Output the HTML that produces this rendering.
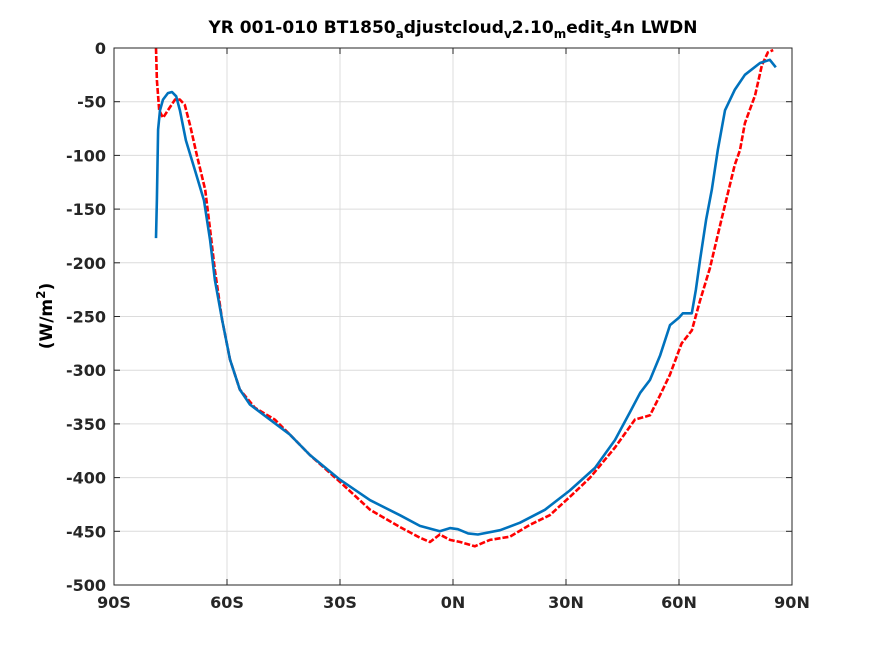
<!DOCTYPE html>
<html><head><meta charset="utf-8"><style>
body{margin:0;background:#fff;}
svg{display:block;font-family:"DejaVu Sans","Liberation Sans",sans-serif;}
</style></head><body>
<svg id="chart" width="875" height="656" viewBox="0 0 875 656">
<rect width="875" height="656" fill="#fff"/>
<text x="453" y="33" text-anchor="middle" font-size="17" font-weight="bold" fill="#000">YR 001-010 BT1850<tspan font-size="12" dy="5">a</tspan><tspan dy="-5">djustcloud</tspan><tspan font-size="12" dy="5">v</tspan><tspan dy="-5">2.10</tspan><tspan font-size="12" dy="5">m</tspan><tspan dy="-5">edit</tspan><tspan font-size="12" dy="5">s</tspan><tspan dy="-5">4n LWDN</tspan></text>
<g id="grid"></g><g id="series"></g><g id="axes"></g>
<text transform="translate(52,316) rotate(-90)" text-anchor="middle" font-size="17" font-weight="bold">(W/m<tspan font-size="12" dy="-7">2</tspan><tspan dy="7">)</tspan></text>
</svg>
<script>
const xTicks=[-90,-60,-30,0,30,60,90];
const xTickLabels=["90S","60S","30S","0N","30N","60N","90N"];
const yTicks=[0,-50,-100,-150,-200,-250,-300,-350,-400,-450,-500];
const blueLat=[-78.85,-78.6,-78.3,-77.8,-77,-75.7,-74.6,-73.5,-72.5,-70.9,-68.5,-66.1,-64.5,-63.2,-61.3,-59.2,-56.6,-53.9,-48.6,-43.3,-38,-30,-22,-14.1,-8.8,-3.5,-0.8,1.3,4,6.6,12.5,17.8,24.4,31,37.7,43,47,49.7,52.3,55,57.6,60,61,63.4,64.5,65.6,67.2,68.7,70.3,72.2,74.8,77.5,81.5,84.1,85.7];
const blueVal=[-177,-141,-76,-58,-48,-42,-41,-45,-58,-86,-114,-142,-179,-216,-253,-290,-318,-332,-346,-360,-379,-402,-421,-435,-445,-450,-447,-448,-452,-453,-449,-442,-430,-412,-391,-365,-339,-321,-309,-286,-258,-251,-247,-247,-225,-197,-160,-132,-95,-58,-39,-25,-14,-11,-18];
const redLat=[-78.85,-78.6,-78,-77,-75.7,-73.8,-72.5,-71.2,-69.8,-68,-65.8,-64.5,-63.2,-61.3,-59.2,-56.6,-52.6,-47.3,-43.3,-38,-30,-22,-14.1,-8.8,-6.1,-3.5,-0.8,1.9,5.8,9.8,15.1,20.4,25.7,31,36.4,43,48.3,52.3,55,57.6,60.7,63.4,65.6,68.2,70.9,74.8,76.2,77.5,80.2,82,83.6,85];
const redVal=[0,-30,-58,-65,-58,-48,-48,-53,-72,-100,-132,-169,-207,-253,-290,-318,-335,-346,-360,-379,-404,-430,-446,-456,-460,-453,-458,-460,-464,-458,-455,-444,-435,-418,-400,-372,-346,-342,-323,-304,-275,-263,-235,-205,-165,-109,-95,-70,-44,-16,-4,-2];
const L=114,R=792,T=48,B=585;
const xs=v=>L+(v+90)/180*(R-L);
const ys=v=>T+(0-v)/500*(B-T);
const NS="http://www.w3.org/2000/svg";
const grid=document.getElementById('grid'),axes=document.getElementById('axes'),series=document.getElementById('series');
function mk(tag,attrs,parent){const e=document.createElementNS(NS,tag);for(const k in attrs)e.setAttribute(k,attrs[k]);parent.appendChild(e);return e;}
xTicks.forEach((t,i)=>{
 const g=mk('line',{x1:xs(t),x2:xs(t),y1:T,y2:B,stroke:'#dcdcdc','stroke-width':1},grid);
 
 
 const tk=mk('line',{x1:xs(t),x2:xs(t),y1:B,y2:B-6,stroke:'#262626'},axes);
 
 
 const tk2=mk('line',{x1:xs(t),x2:xs(t),y1:T,y2:T+6,stroke:'#262626'},axes);
 
 
 const tx=mk('text',{x:xs(t),y:B+23,'text-anchor':'middle','font-size':16,'font-weight':'bold',fill:'#262626'},axes);
 tx.textContent=xTickLabels[i];
 
 
});
yTicks.forEach(t=>{
 const g=mk('line',{x1:L,x2:R,y1:ys(t),y2:ys(t),stroke:'#dcdcdc','stroke-width':1},grid);
 
 
 const tk=mk('line',{x1:L,x2:L+6,y1:ys(t),y2:ys(t),stroke:'#262626'},axes);
 
 
 const tk2=mk('line',{x1:R,x2:R-6,y1:ys(t),y2:ys(t),stroke:'#262626'},axes);
 
 
 const tx=mk('text',{x:L-8,y:ys(t)+6,'text-anchor':'end','font-size':16,'font-weight':'bold',fill:'#262626'},axes);
 tx.textContent=String(t);
 
 
});
const box=mk('rect',{x:L,y:T,width:R-L,height:B-T,fill:'none',stroke:'#262626','stroke-width':1},axes);


function path(lat,val){return lat.map((a,i)=>(i?'L':'M')+xs(a).toFixed(1)+','+ys(val[i]).toFixed(1)).join(' ');}
const red=mk('path',{d:path(redLat,redVal),fill:'none',stroke:'#ff0000','stroke-width':2.6,'stroke-dasharray':'6 2','stroke-linejoin':'round'},series);


const blue=mk('path',{d:path(blueLat,blueVal),fill:'none',stroke:'#0072bd','stroke-width':2.6,'stroke-linejoin':'round'},series);


</script>
</body></html>
